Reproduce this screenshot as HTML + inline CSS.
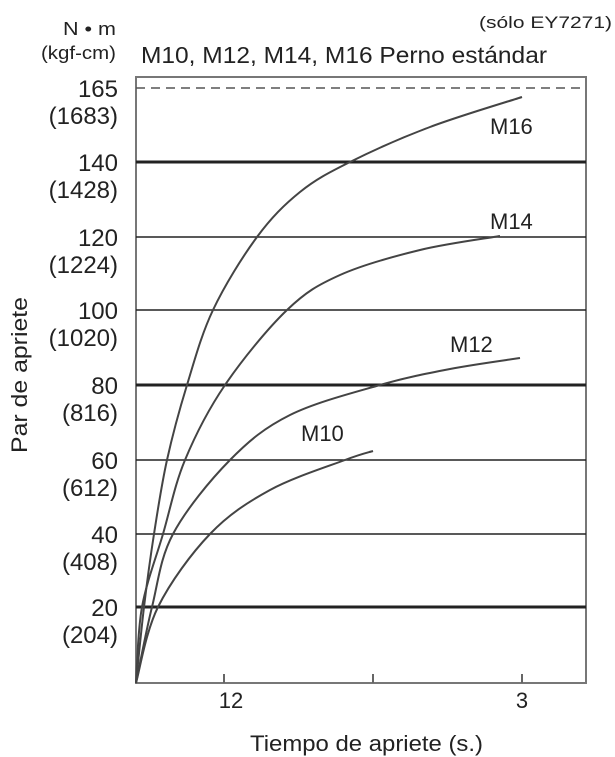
<!DOCTYPE html>
<html><head><style>body{margin:0;background:#fff}svg{display:block}text{font-family:"Liberation Sans",sans-serif;fill:#222}</style></head><body>
<svg width="615" height="757" viewBox="0 0 615 757">
<rect x="136" y="77" width="450" height="606" fill="none" stroke="#777" stroke-width="2"/>
<line x1="136" y1="88" x2="586" y2="88" stroke="#555" stroke-width="1.5" stroke-dasharray="9,6"/>
<g stroke="#222">
<line x1="136" y1="162" x2="586" y2="162" stroke-width="3"/>
<line x1="136" y1="237" x2="586" y2="237" stroke-width="1.5"/>
<line x1="136" y1="310" x2="586" y2="310" stroke-width="1.5"/>
<line x1="136" y1="385" x2="586" y2="385" stroke-width="3"/>
<line x1="136" y1="460" x2="586" y2="460" stroke-width="1.5"/>
<line x1="136" y1="534" x2="586" y2="534" stroke-width="1.5"/>
<line x1="136" y1="607" x2="586" y2="607" stroke-width="3"/>
</g>
<g stroke="#666" stroke-width="2"><line x1="224" y1="683" x2="224" y2="674"/><line x1="373" y1="683" x2="373" y2="674"/><line x1="522" y1="683" x2="522" y2="674"/></g>
<g id="curves" fill="none" stroke="#444" stroke-width="2" stroke-linejoin="round">
<polyline points="136,683 144,607 154,534 167,460 187,385 213,310 257,237 300,192 350,162 430,127 522,97"/>
<polyline points="136,683 142,607 163,534 185,460 225,385 287,310 340,275 420,250 500,236"/>
<polyline points="136,683 152,607 173,534 230,460 290,415 380,385 450,369 520,358"/>
<polyline points="136,683 158,607 210,534 270,490 345,460 373,451"/>
</g>
<g font-size="22">
<text x="490" y="134">M16</text><text x="490" y="229">M14</text><text x="450" y="352">M12</text><text x="301" y="441">M10</text>
</g>
<g font-size="24" text-anchor="end">
<text x="118" y="97">165</text><text x="118" y="124">(1683)</text>
<text x="118" y="171">140</text><text x="118" y="198">(1428)</text>
<text x="118" y="246">120</text><text x="118" y="273">(1224)</text>
<text x="118" y="319">100</text><text x="118" y="346">(1020)</text>
<text x="118" y="394">80</text><text x="118" y="421">(816)</text>
<text x="118" y="469">60</text><text x="118" y="496">(612)</text>
<text x="118" y="543">40</text><text x="118" y="570">(408)</text>
<text x="118" y="616">20</text><text x="118" y="643">(204)</text>
</g>
<text x="63" y="35" font-size="18" textLength="53" lengthAdjust="spacingAndGlyphs">N • m</text>
<text x="41" y="59" font-size="18" textLength="75" lengthAdjust="spacingAndGlyphs">(kgf-cm)</text>
<text x="479" y="28" font-size="17" textLength="133" lengthAdjust="spacingAndGlyphs">(sólo EY7271)</text>
<text x="141" y="63" font-size="23" textLength="406" lengthAdjust="spacingAndGlyphs">M10, M12, M14, M16 Perno estándar</text>
<text x="231" y="708" font-size="22" text-anchor="middle">12</text>
<text x="522" y="708" font-size="22" text-anchor="middle">3</text>
<text x="250" y="751" font-size="22" textLength="233" lengthAdjust="spacingAndGlyphs">Tiempo de apriete (s.)</text>
<text transform="translate(27,453) rotate(-90)" font-size="22" textLength="156" lengthAdjust="spacingAndGlyphs">Par de apriete</text>
</svg>
<script>
(function(){
var g=document.getElementById('curves');
var pls=Array.prototype.slice.call(g.querySelectorAll('polyline'));
pls.forEach(function(pl){
 var p=pl.getAttribute('points').trim().split(/\s+/).map(function(s){return s.split(',').map(Number);});
 var d='M'+p[0][0]+','+p[0][1];
 for(var i=0;i<p.length-1;i++){
  var p0=p[i>0?i-1:0],p1=p[i],p2=p[i+1],p3=p[i+2<p.length?i+2:i+1];
  var c1=[p1[0]+(p2[0]-p0[0])/6,p1[1]+(p2[1]-p0[1])/6];
  var c2=[p2[0]-(p3[0]-p1[0])/6,p2[1]-(p3[1]-p1[1])/6];
  d+=' C'+c1.join(',')+' '+c2.join(',')+' '+p2.join(',');
 }
 var path=document.createElementNS('http://www.w3.org/2000/svg','path');
 path.setAttribute('d',d);
 g.replaceChild(path,pl);
});
})();
</script>
</body></html>
